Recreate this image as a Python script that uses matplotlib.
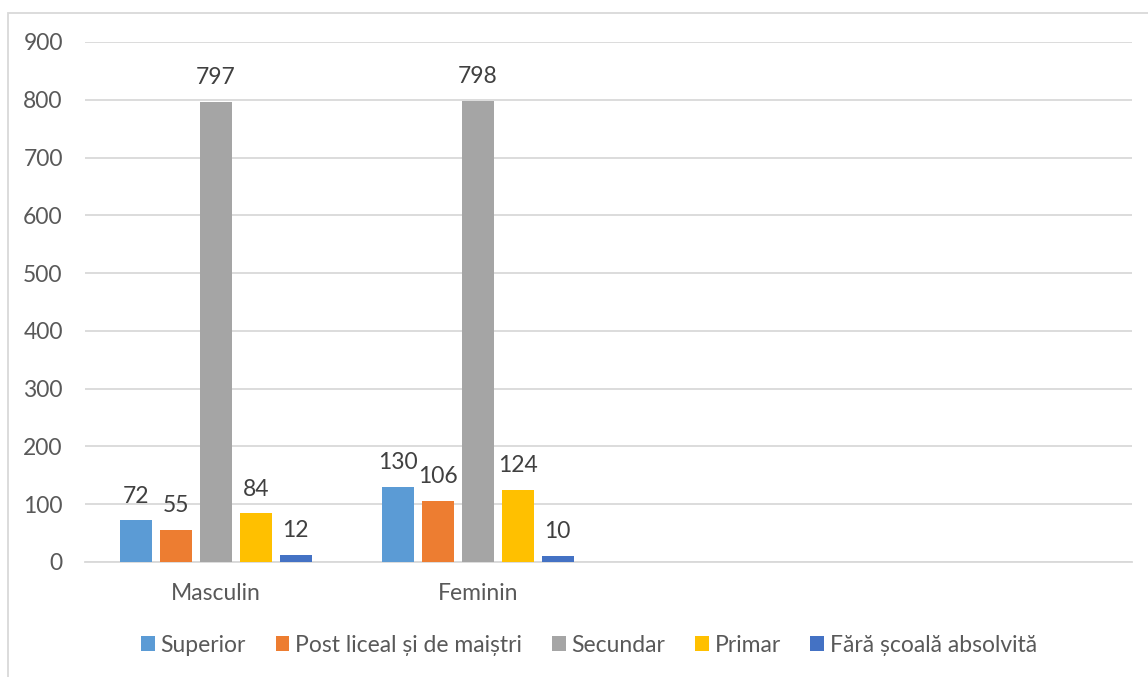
import numpy as np
import matplotlib.pyplot as plt
from matplotlib.patches import Rectangle

plt.rcParams['font.family'] = ['Lato', 'DejaVu Sans']

categories = ['Masculin', 'Feminin', '', '']
series = ['Superior', 'Post liceal și de maiștri', 'Secundar', 'Primar', 'Fără școală absolvită']
values = [
    [72, 130],   # Superior
    [55, 106],   # Post liceal
    [797, 798],  # Secundar
    [84, 124],   # Primar
    [12, 10],    # Fara scoala
]
colors = ['#5B9BD5', '#ED7D31', '#A5A5A5', '#FFC000', '#4472C4']
yticks = [0, 100, 200, 300, 400, 500, 600, 700, 800, 900]

W, H = 1148, 677
FS = 16.5
fig = plt.figure(figsize=(W / 100, H / 100), dpi=100)
ax = fig.add_axes([85 / W, 1 - 562 / H, (1132 - 85) / W, (562 - 42) / H])

# outer chart border (only top and left visible in reference)
fig.patches.append(Rectangle((8 / W, -0.1), 1.2, 1 - 13 / H + 0.1, transform=fig.transFigure,
                             fill=False, edgecolor='#D9D9D9', linewidth=1.3))

bar_w = 32 / 262
step = 40 / 262
x = np.arange(len(categories))
n = len(series)

for i, (name, vals, c) in enumerate(zip(series, values, colors)):
    xs = x[:len(vals)] + (i - (n - 1) / 2) * step
    ax.bar(xs, vals, width=bar_w, color=c, label=name, zorder=3)
    for xi, v in zip(xs, vals):
        ax.annotate(str(v), (xi, v), xytext=(0, 10), textcoords='offset points',
                    ha='center', va='bottom', fontsize=FS, color='#404040')

ax.set_xlim(-0.5, len(categories) - 0.5)
ax.set_ylim(0, 900)
ax.set_yticks(yticks)
ax.set_xticks(x)
ax.set_xticklabels(categories)
ax.grid(axis='y', color='#D9D9D9', linewidth=1.3, zorder=0)
for s in ['top', 'right', 'left']:
    ax.spines[s].set_visible(False)
ax.spines['bottom'].set_color('#D9D9D9')
ax.spines['bottom'].set_linewidth(1.3)
ax.tick_params(axis='both', length=0, labelsize=FS, labelcolor='#595959')
ax.tick_params(axis='y', pad=16)
ax.tick_params(axis='x', pad=15)

fig.legend(loc='center', bbox_to_anchor=(589 / W, 1 - 645 / H), ncol=5, frameon=False,
           fontsize=FS, labelcolor='#595959', handlelength=0.6, handleheight=0.6,
           handletextpad=0.25, columnspacing=1.3)

fig.savefig('out.png', dpi=100)
